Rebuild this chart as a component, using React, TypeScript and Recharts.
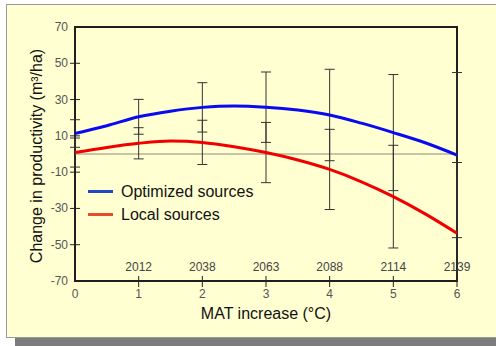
import React from 'react';
import {
  ComposedChart,
  Line,
  XAxis,
  YAxis,
  ErrorBar,
  ReferenceLine,
  ReferenceArea,
  Legend,
} from 'recharts';

// MAT increase steps (°C) and the fitted productivity change for each seed source
const matSteps = [0, 0.5, 1, 1.5, 2, 2.5, 3, 3.5, 4, 4.5, 5, 5.5, 6];
const optimizedSources = [11.3, 15.6, 20.5, 23.6, 25.7, 26.5, 25.8, 24.2, 21.5, 17.0, 11.8, 6.2, -0.6];
const localSources = [0.8, 3.6, 5.9, 7.2, 6.4, 4.0, 0.8, -3.3, -8.5, -15.3, -23.5, -33.0, -43.7];
// +/- spread, only at whole degrees
const optimizedSpread = [7.6, null, 9.6, null, 13.6, null, 19.4, null, 25.2, null, 32.0, null, 45.5];
const localSpread = [8.0, null, 8.6, null, 12.2, null, 16.6, null, 22.1, null, 28.3, null, 39.0];

const xTicks = [0, 1, 2, 3, 4, 5, 6];
const yearLabels = ['', '2012', '2038', '2063', '2088', '2114', '2139'];
const yTicks = [-70, -50, -30, -10, 10, 30, 50, 70];

const FONT = '"Liberation Sans", Arial, sans-serif';

const CHART_W = 496;
const CHART_H = 346;
const MARGIN = { top: 27, right: 39, bottom: 35, left: 0 };
const Y_AXIS_W = 75;
const X_AXIS_H = 30;

const legendOrder = ['optimized', 'local'];
const legendColors: Record<string, string> = {
  optimized: '#2347c2',
  local: '#e84a2a',
};

const rows = matSteps.map((mat, i) => ({
  mat,
  optimized: optimizedSources[i],
  local: localSources[i],
  optimizedErr: optimizedSpread[i],
  localErr: localSpread[i],
}));

const YTick = ({ x, y, payload }: any) => {
  const edge = Math.abs(payload.value) === 70;
  return (
    <g>
      {!edge && <line x1={x - 5} x2={x + 5} y1={y} y2={y} stroke="#222" />}
      <text
        x={x - 7}
        y={y}
        textAnchor="end"
        dominantBaseline="central"
        fontSize={12}
        fontFamily={FONT}
        fill="#555"
      >
        {payload.value}
      </text>
    </g>
  );
};

const XTick = ({ x, y, payload }: any) => {
  const year = yearLabels[xTicks.indexOf(payload.value)];
  return (
    <g>
      {payload.value > 0 && <line x1={x} x2={x} y1={y - 5} y2={y + 6} stroke="#222" />}
      <text
        x={x}
        y={y + 13}
        textAnchor="middle"
        dominantBaseline="central"
        fontSize={12}
        fontFamily={FONT}
        fill="#555"
      >
        {payload.value}
      </text>
      {year && (
        <text
          x={x}
          y={y - 14}
          textAnchor="middle"
          dominantBaseline="central"
          fontSize={12}
          fontFamily={FONT}
          fill="#444"
        >
          {year}
        </text>
      )}
    </g>
  );
};

const SourceLegend = ({ payload }: any) => {
  const items = [...(payload || [])].sort(
    (a: any, b: any) => legendOrder.indexOf(a.dataKey) - legendOrder.indexOf(b.dataKey),
  );
  return (
    <div style={{ fontFamily: FONT, fontSize: 16, color: '#111' }}>
      {items.map((entry: any) => (
        <div
          key={entry.dataKey}
          style={{ display: 'flex', alignItems: 'center', height: 23 }}
        >
          <span
            style={{
              display: 'inline-block',
              width: 25,
              height: 3,
              background: legendColors[entry.dataKey],
              marginRight: 8,
            }}
          />
          {entry.value}
        </div>
      ))}
    </div>
  );
};

// error bars running past the top/bottom of the frame are cut there;
// a few px of slack left and right keeps the caps at x=0 and x=6 whole
const PlotClip = () => (
  <svg width={0} height={0} style={{ position: 'absolute' }}>
    <defs>
      <clipPath id="plot-clip" clipPathUnits="userSpaceOnUse">
        <rect
          x={MARGIN.left + Y_AXIS_W - 8}
          y={MARGIN.top - 6}
          width={CHART_W - MARGIN.left - MARGIN.right - Y_AXIS_W + 16}
          height={CHART_H - MARGIN.top - MARGIN.bottom - X_AXIS_H + 6}
        />
      </clipPath>
    </defs>
  </svg>
);

const App: React.FC = () => {
  return (
    <div
      style={{
        position: 'absolute',
        left: 0,
        top: 0,
        width: CHART_W,
        height: CHART_H,
        overflow: 'hidden',
        background: '#ffffff',
      }}
    >
      <PlotClip />
      {/* panel + drop shadow */}
      <div
        style={{
          position: 'absolute',
          left: 15,
          top: 337,
          width: 490,
          height: 12,
          background: '#7c7c7c',
        }}
      />
      <div
        style={{
          position: 'absolute',
          left: 6,
          top: 4,
          width: 500,
          height: 332,
          border: '1px solid #9a9a9a',
          background: '#ffffd2',
        }}
      />

      <div style={{ position: 'absolute', left: 0, top: 0 }}>
        <ComposedChart width={CHART_W} height={CHART_H} data={rows} margin={MARGIN}>
          <XAxis
            dataKey="mat"
            type="number"
            domain={[0, 6]}
            ticks={xTicks}
            height={X_AXIS_H}
            axisLine={false}
            tickLine={false}
            tickSize={0}
            tickMargin={0}
            tick={<XTick />}
            label={({ viewBox }: any) => (
              <text
                x={viewBox.x + viewBox.width / 2}
                y={viewBox.y + 32}
                textAnchor="middle"
                dominantBaseline="central"
                fontSize={16}
                fontFamily={FONT}
                fill="#111"
              >
                MAT increase (°C)
              </text>
            )}
          />
          <YAxis
            type="number"
            domain={[-70, 70]}
            ticks={yTicks}
            allowDataOverflow
            width={Y_AXIS_W}
            axisLine={false}
            tickLine={false}
            tickSize={0}
            tickMargin={0}
            tick={<YTick />}
            label={({ viewBox }: any) => {
              const cx = viewBox.x + 36;
              const cy = viewBox.y + viewBox.height / 2 + 2;
              return (
                <text
                  x={cx}
                  y={cy}
                  transform={`rotate(-90 ${cx} ${cy})`}
                  textAnchor="middle"
                  dominantBaseline="central"
                  fontSize={16}
                  fontFamily={FONT}
                  fill="#111"
                >
                  Change in productivity (m³/ha)
                </text>
              );
            }}
          />
          <ReferenceLine y={0} stroke="#8c8c7c" strokeWidth={1} />
          <ReferenceArea
            x1={0}
            x2={6}
            y1={-70}
            y2={70}
            fill="none"
            stroke="#1e1e1e"
            strokeWidth={2}
          />
          <Legend
            layout="horizontal"
            verticalAlign="middle"
            align="center"
            content={<SourceLegend />}
            wrapperStyle={{ left: 88, top: 180, width: 200 }}
          />
          <Line
            dataKey="optimized"
            name="Optimized sources"
            type="monotone"
            stroke="#0a0af0"
            strokeWidth={3}
            dot={false}
            isAnimationActive={false}
          >
            <ErrorBar
              dataKey="optimizedErr"
              direction="y"
              width={5}
              stroke="#333"
              strokeWidth={1}
              clipPath="url(#plot-clip)"
            />
          </Line>
          <Line
            dataKey="local"
            name="Local sources"
            type="monotone"
            stroke="#f00000"
            strokeWidth={3}
            dot={false}
            isAnimationActive={false}
          >
            <ErrorBar
              dataKey="localErr"
              direction="y"
              width={5}
              stroke="#333"
              strokeWidth={1}
              clipPath="url(#plot-clip)"
            />
          </Line>
        </ComposedChart>
      </div>
    </div>
  );
};

export default App;
